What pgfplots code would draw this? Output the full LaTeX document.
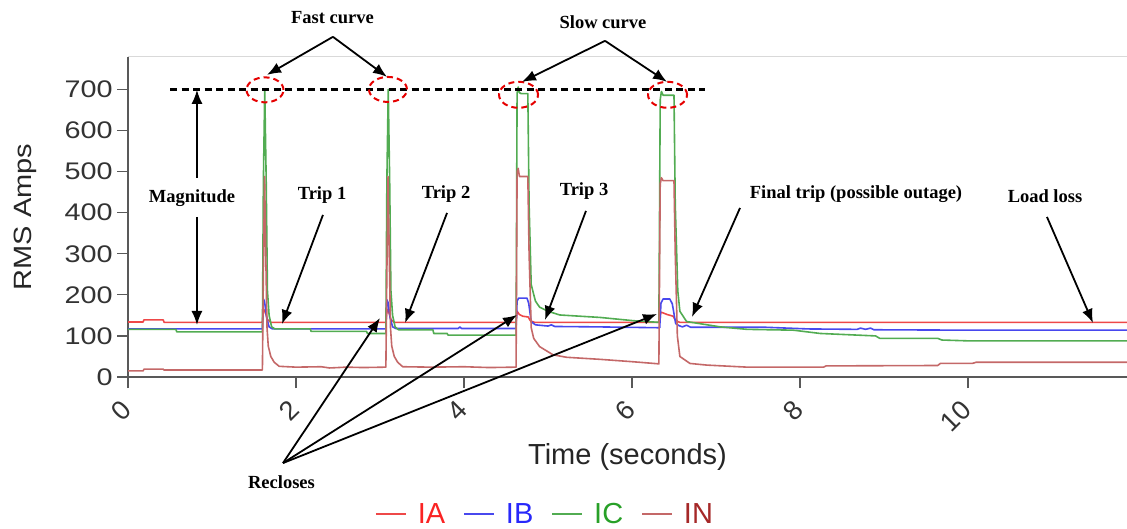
\documentclass[border=0pt]{standalone}
\usepackage{pgfplots}
\pgfplotsset{compat=1.18}
\usetikzlibrary{arrows.meta}
\usepackage{fontspec}
\setmainfont{Liberation Sans}
\newfontfamily\notefont{Liberation Serif}

% line colours of the four currents
\definecolor{cIA}{RGB}{238,72,72}
\definecolor{cIB}{RGB}{72,72,238}
\definecolor{cIC}{RGB}{82,172,82}
\definecolor{cIN}{RGB}{196,104,104}
% legend text colours
\definecolor{tIA}{RGB}{250,35,35}
\definecolor{tIB}{RGB}{40,40,250}
\definecolor{tIC}{RGB}{40,160,40}
\definecolor{tIN}{RGB}{165,40,40}

\tikzset{
  note/.style={font=\notefont\bfseries\fontsize{18.5}{20}\selectfont, text=black, inner sep=1pt},
  arr/.style={line width=1.8pt, -{Latex[length=14pt,width=11pt]}},
  ring/.style={red!90!black, line width=2pt, dash pattern=on 6pt off 4pt},
}

\begin{document}
\begin{tikzpicture}
\begin{axis}[
  at={(128pt,-377pt)}, anchor=south west,
  scale only axis, width=999pt, height=320pt,
  xmin=0, xmax=11.893, ymin=0, ymax=779,
  clip=false,
  axis x line*=bottom, axis y line*=left,
  axis line style={line width=1.3pt, black!65},
  tick align=outside, major tick length=11pt,
  tick style={line width=1.3pt, black!65},
  xtick={0,2,4,6,8,10}, ytick={0,100,...,700},
  /pgf/number format/assume math mode=true,
  yticklabel style={font=\fontsize{24}{24}\selectfont, text=black!80, xscale=1.2},
  xticklabel style={font=\fontsize{27}{27}\selectfont, text=black!80, rotate=45, anchor=east, xshift=-10pt, yshift=-11pt},
  xlabel={Time (seconds)}, ylabel={RMS Amps},
  xlabel style={font=\fontsize{29}{29}\selectfont, text=black!85, at={(axis description cs:0.5,-0.25)}, anchor=center},
  ylabel style={font=\fontsize{25}{25}\selectfont, text=black!85, at={(axis description cs:-0.1031,0.5)}, anchor=center, xscale=1.16},
  legend columns=4,
  legend style={draw=none, fill=none, at={(axis description cs:0.4174,-0.428)}, anchor=center,
    font=\fontsize{29}{29}\selectfont,
    /tikz/every odd column/.append style={column sep=9pt},
    /tikz/every even column/.append style={column sep=16pt}},
  legend image code/.code={\draw[#1, line width=1.8pt] (0pt,0pt) -- (30pt,0pt);},
  every axis plot/.append style={line width=1.6pt, line join=round},
]

% faint frame line along the top of the plotting region
\draw[black!15, line width=1pt] (rel axis cs:0,1) -- (rel axis cs:1,1);

\addplot[cIA] table {
t I
0 134
0.18 134
0.19 139
0.42 139
0.43 133
1.60 133
1.615 165
1.635 158
1.66 140
1.70 133
3.07 133
3.085 165
3.105 158
3.13 140
3.17 133
4.62 133
4.632 160
4.66 152
4.70 148
4.765 146
4.79 137
4.84 133
6.33 133
6.342 158
6.37 156
6.42 152
6.49 148
6.52 137
6.57 133
11.893 133
};
\addlegendentry{\textcolor{tIA}{IA}}

\addplot[cIB] table {
t I
0 117
1.60 117
1.612 190
1.625 185
1.65 145
1.68 122
1.72 117
3.07 117
3.082 188
3.095 182
3.12 145
3.15 122
3.19 118
3.93 118
3.95 122
3.97 118
4.62 118
4.632 185
4.65 192
4.75 192
4.77 180
4.80 135
4.85 127
5.00 124
5.04 127
5.08 123
5.60 122
6.30 120
6.33 120
6.345 180
6.37 190
6.45 190
6.48 178
6.52 130
6.56 125
6.60 122
6.65 126
6.70 121
7.60 121
8.10 117
8.68 116
8.72 119
8.78 116
8.84 119
8.88 115
10.0 114
11.893 114
};
\addlegendentry{\textcolor{tIB}{IB}}

\addplot[cIC] table {
t I
0 116
0.57 116
0.58 110
1.60 110
1.612 480
1.628 700
1.645 480
1.66 210
1.68 150
1.71 122
1.75 117
2.17 117
2.18 111
2.84 111
2.85 106
3.07 106
3.082 480
3.098 700
3.115 480
3.13 210
3.15 150
3.18 122
3.22 115
3.63 115
3.64 106
3.80 106
3.81 102
4.62 102
4.632 690
4.645 706
4.66 692
4.68 690
4.76 690
4.775 420
4.80 225
4.85 185
4.90 170
5.00 160
5.14 151
5.62 145
6.02 137
6.32 133
6.336 675
6.35 695
6.37 686
6.50 686
6.515 420
6.545 210
6.57 160
6.65 135
7.05 122
7.37 116
7.92 114
8.24 106
8.90 100
8.95 94
9.64 94
9.69 90
10.0 88
11.893 88
};
\addlegendentry{\textcolor{tIC}{IC}}

\addplot[cIN] table {
t I
0 15
0.18 15
0.19 19
0.42 19
0.43 17
1.60 17
1.612 260
1.626 488
1.64 300
1.655 120
1.67 75
1.70 50
1.74 36
1.80 26
2.00 24
2.30 25
2.40 22
2.60 24
2.80 23
3.07 24
3.082 260
3.096 488
3.11 300
3.125 120
3.14 75
3.17 50
3.21 36
3.27 25
3.60 24
4.00 25
4.30 23
4.62 24
4.632 500
4.645 508
4.66 488
4.76 488
4.775 300
4.80 120
4.83 94
4.90 74
5.06 54
5.22 48
5.62 43
6.02 37
6.32 32
6.336 470
6.35 485
6.37 478
6.50 478
6.515 300
6.54 100
6.57 50
6.69 33
6.89 29
7.37 24
8.28 24
8.31 27
9.64 28
9.67 33
10.05 33
10.1 36
11.893 36
};
\addlegendentry{\textcolor{tIN}{IN}}

% peak level reference
\draw[black, line width=2.2pt, dash pattern=on 7pt off 4.5pt] (axis cs:0.5,700) -- (axis cs:6.87,700);

% rings around the four peaks
\draw[ring] (axis cs:1.631,699) ellipse [x radius=18.5pt, y radius=12.5pt];
\draw[ring] (axis cs:3.095,700) ellipse [x radius=19pt, y radius=12.5pt];
\draw[ring] (axis cs:4.649,687) ellipse [x radius=19.5pt, y radius=13pt];
\draw[ring] (axis cs:6.423,687) ellipse [x radius=19.5pt, y radius=13pt];

% curve type labels
\node[note] at (axis cs:2.435,875.6) {Fast curve};
\draw[arr] (axis cs:2.440,828.1) -- (axis cs:1.655,735.5);
\draw[arr] (axis cs:2.440,828.1) -- (axis cs:3.083,730.7);
\node[note] at (axis cs:5.655,863.4) {Slow curve};
\draw[arr] (axis cs:5.679,818.3) -- (axis cs:4.690,718.5);
\draw[arr] (axis cs:5.679,818.3) -- (axis cs:6.417,718.5);

% magnitude span
\node[note] at (axis cs:0.762,436) {Magnitude};
\draw[arr] (axis cs:0.821,484.7) -- (axis cs:0.821,699);
\draw[arr] (axis cs:0.821,389.7) -- (axis cs:0.821,126.6);

% trips
\node[note] at (axis cs:2.310,442) {Trip 1};
\draw[arr] (axis cs:2.321,394.6) -- (axis cs:1.833,129.1);
\node[note] at (axis cs:3.786,445.7) {Trip 2};
\draw[arr] (axis cs:3.798,399.4) -- (axis cs:3.298,131.5);
\node[note] at (axis cs:5.429,453) {Trip 3};
\draw[arr] (axis cs:5.452,404.3) -- (axis cs:4.964,138.8);
\node[note] at (axis cs:8.667,444.5) {Final trip (possible outage)};
\draw[arr] (axis cs:7.286,411.6) -- (axis cs:6.714,146.1);
\node[note] at (axis cs:10.917,439.6) {Load loss};
\draw[arr] (axis cs:10.940,389.7) -- (axis cs:11.488,131.5);

% recloses
\node[note] at (axis cs:1.827,-256.9) {Recloses};
\draw[arr] (axis cs:1.845,-209.5) -- (axis cs:3.0,143.7);
\draw[arr] (axis cs:1.845,-209.5) -- (axis cs:4.631,151);
\draw[arr] (axis cs:1.845,-209.5) -- (axis cs:6.298,153.4);
\end{axis}
\pgfresetboundingbox
\path (0pt,0pt) rectangle (1127pt,-529pt);
\end{tikzpicture}
\end{document}
